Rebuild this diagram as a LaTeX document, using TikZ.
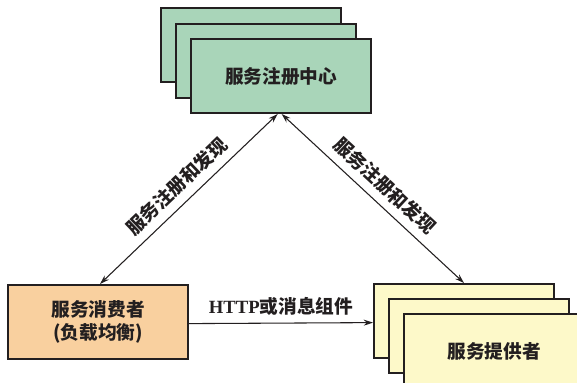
\documentclass[tikz,border=0pt]{standalone}
\usepackage{fontspec}
\setmainfont{Liberation Serif}
\newfontfamily\cjk{Noto Sans CJK SC}
\usetikzlibrary{arrows.meta}
\definecolor{reggreen}{HTML}{A9D5B9}
\definecolor{consorange}{HTML}{F9D09F}
\definecolor{provyellow}{HTML}{FDF9C9}
\definecolor{edge}{HTML}{231F20}
\tikzset{
  card/.style={draw=edge, line width=1.5pt, minimum width=135pt, minimum height=55.5pt, inner sep=0pt, anchor=north west, font=\cjk\fontsize{14}{17}\selectfont\bfseries, text=edge, align=center},
  conn/.style={draw=edge, line width=0.8pt, -{Stealth[length=7pt,width=4.5pt]}},
  biconn/.style={draw=edge, line width=0.8pt, {Stealth[length=7pt,width=4.5pt]}-{Stealth[length=7pt,width=4.5pt]}},
  lbl/.style={font=\cjk\fontsize{14}{16}\selectfont\bfseries, text=edge, inner sep=2pt}
}
\begin{document}
\begin{tikzpicture}[x=0.75pt,y=-0.75pt]
\useasboundingbox (0,0) rectangle (577,382);
\clip (0,0) rectangle (577,382);
\fill[white] (0,0) rectangle (577,382);
% registry stack
\node[card, fill=reggreen] (reg3) at (160,7) {};
\node[card, fill=reggreen] (reg2) at (175,23) {};
\node[card, fill=reggreen] (reg1) at (190,38) {服务注册中心};
% consumer
\node[card, fill=consorange] (cons) at (7,284) {服务消费者\\(负载均衡)};
% provider stack
\node[card, fill=provyellow] (prov3) at (373,283) {};
\node[card, fill=provyellow] (prov2) at (388,298) {};
\node[card, fill=provyellow] (prov1) at (403,313) {服务提供者};
% connectors
\draw[biconn] ([xshift=1.5pt]cons.north) -- node[lbl, midway, sloped, above=4pt] {服务注册和发现} ([xshift=-2.5pt]reg1.south);
\draw[biconn] ([xshift=0.5pt]reg1.south) -- node[lbl, midway, sloped, above=4pt] {服务注册和发现} (prov3.north);
\draw[conn] ([yshift=-1.2pt]cons.east) -- node[lbl, midway, above=3pt] {{\rmfamily\bfseries HTTP}或消息组件} ([yshift=-1.2pt]prov3.west);
\end{tikzpicture}
\end{document}
